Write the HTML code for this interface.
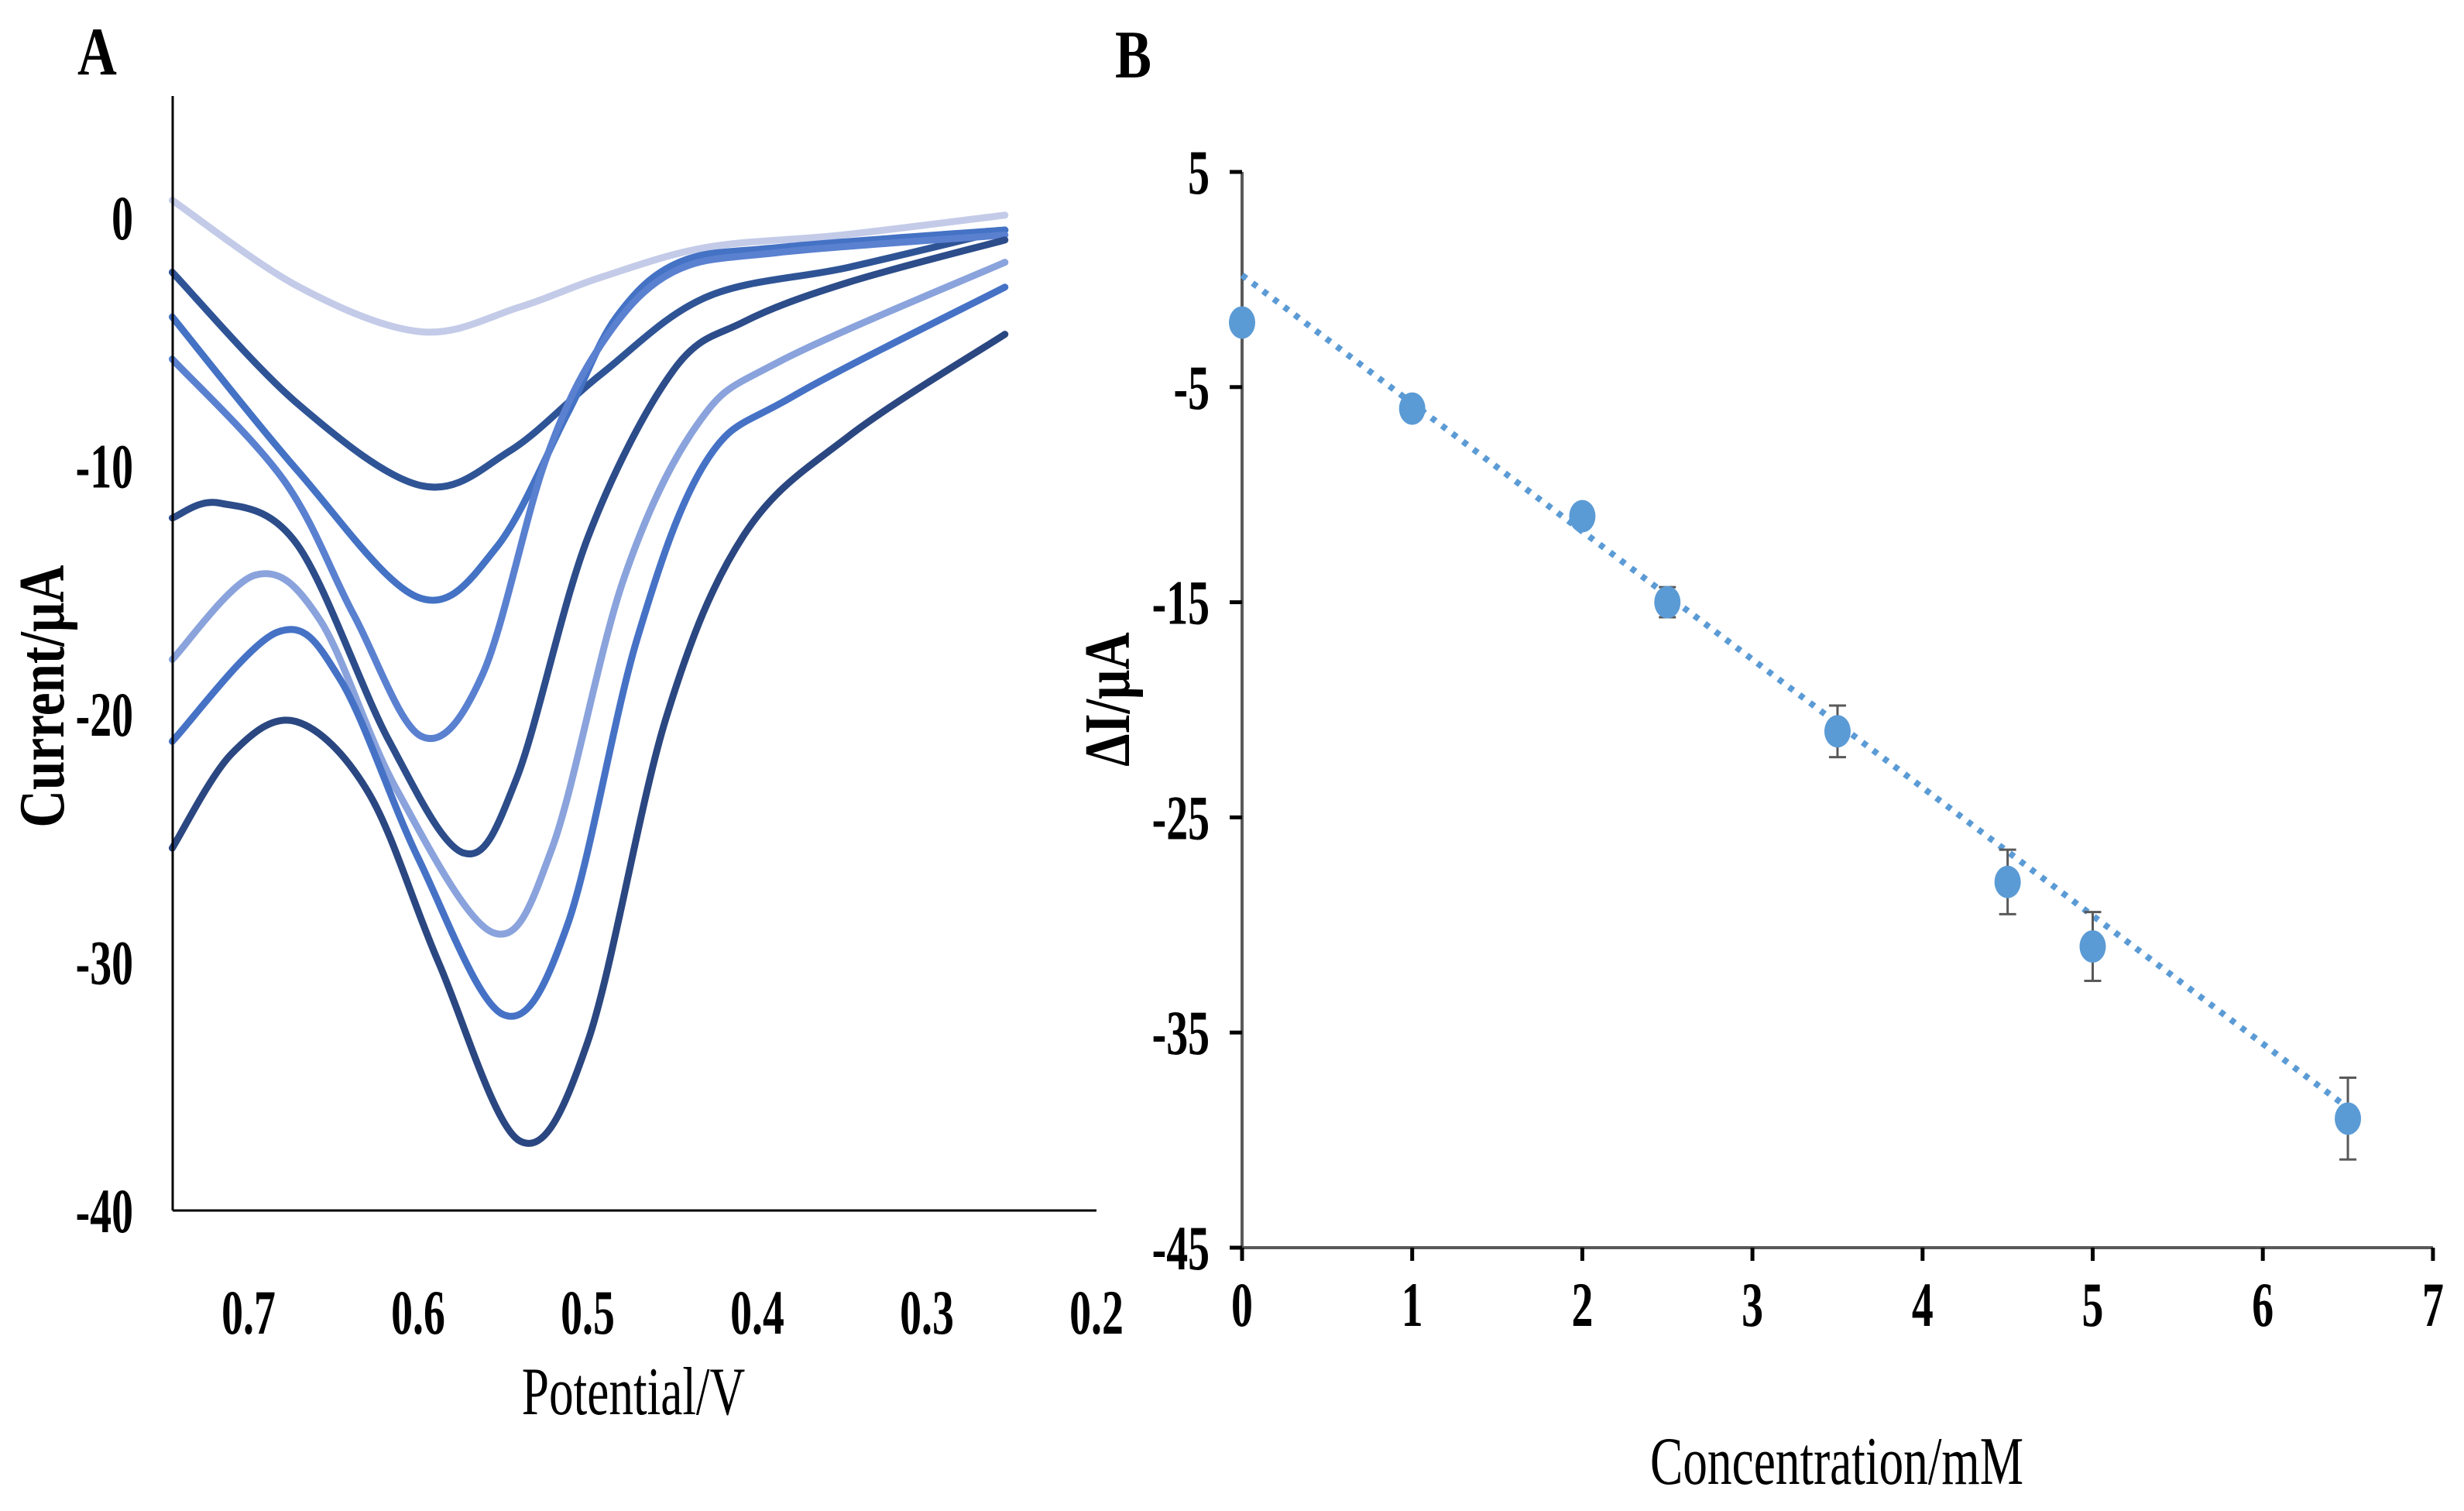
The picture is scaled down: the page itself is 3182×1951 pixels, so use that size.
<!DOCTYPE html>
<html><head><meta charset="utf-8"><style>
html,body{margin:0;padding:0;background:#fff;}
svg{display:block;}
text{font-family:"Liberation Serif",serif;fill:#000;}
</style></head><body>
<svg id="chart" width="3182" height="1951" viewBox="0 0 3182 1951">
<g id="panelA"></g>
<g id="panelB"></g>
</svg>
<script>
// ---------- Panel A data ----------
const aXTicks = [0.7, 0.6, 0.5, 0.4, 0.3, 0.2];
const aYTicks = [0, -10, -20, -30, -40];
const aColors = ["#c3cbe8", "#2f5496", "#4472c4", "#5a80d0", "#2c4c8a", "#8aa3dc", "#4672c6", "#2b4781"];
const aCurve1 = [[0.745,0.7],[0.67,-2.8],[0.598,-4.6],[0.54,-3.6],[0.492,-2.4],[0.43,-1.2],[0.35,-0.7],[0.254,0.1]];
const aCurve2 = [[0.745,-2.2],[0.671,-7.5],[0.598,-10.8],[0.546,-9.4],[0.492,-6.3],[0.43,-3.2],[0.346,-2.0],[0.254,-0.5]];
const aCurve3 = [[0.745,-4.0],[0.671,-10.2],[0.6,-15.3],[0.554,-13.3],[0.512,-7.9],[0.483,-4.0],[0.446,-1.8],[0.387,-1.2],[0.254,-0.5]];
const aCurve4 = [[0.745,-5.7],[0.679,-10.6],[0.638,-16.0],[0.598,-20.9],[0.562,-18.4],[0.525,-9.8],[0.492,-5.1],[0.45,-2.2],[0.387,-1.4],[0.254,-0.7]];
const aCurve5 = [[0.745,-12.1],[0.717,-11.5],[0.671,-13.2],[0.617,-21.1],[0.573,-25.6],[0.542,-22.6],[0.5,-12.9],[0.45,-6.2],[0.408,-4.2],[0.346,-2.6],[0.254,-0.9]];
const aCurve6 = [[0.745,-17.8],[0.696,-14.4],[0.658,-16.2],[0.613,-23.0],[0.556,-28.8],[0.521,-25.4],[0.479,-14.6],[0.435,-8.3],[0.387,-5.8],[0.254,-1.8]];
const aCurve7 = [[0.745,-21.1],[0.683,-16.7],[0.646,-18.6],[0.6,-25.8],[0.55,-32.1],[0.512,-28.5],[0.471,-17.0],[0.43,-9.8],[0.379,-7.2],[0.254,-2.8]];
const aCurve8 = [[0.745,-25.4],[0.71,-21.6],[0.672,-20.3],[0.629,-23.2],[0.588,-30.0],[0.54,-37.2],[0.5,-33.2],[0.454,-20.2],[0.408,-12.8],[0.346,-8.8],[0.254,-4.7]];
const aCurves = [aCurve1,aCurve2,aCurve3,aCurve4,aCurve5,aCurve6,aCurve7,aCurve8];

// ---------- Panel B data ----------
const bConc = [0, 1, 2, 2.5, 3.5, 4.5, 5, 6.5];
const bDeltaI = [-2, -6, -11, -15, -21, -28, -31, -39];
const bErr = [0.3, 0.3, 0.3, 0.7, 1.2, 1.5, 1.6, 1.9];
const bXTicks = [0,1,2,3,4,5,6,7];
const bYTicks = [5,-5,-15,-25,-35,-45];
const bTrend = [0, 6.5];
const bTrendVals = [0.2, -38.5];

const NS = "http://www.w3.org/2000/svg";
function mk(parent, tag, attrs, txt){
  const e = document.createElementNS(NS, tag);
  for (const k in attrs) e.setAttribute(k, attrs[k]);
  if (txt !== undefined) e.textContent = txt;
  parent.appendChild(e);
  return e;
}
function txt(parent, x, y, s, size, bold, anchor, sx, rot){
  const t = 'translate('+x+','+y+')' + (rot ? ' rotate(-90)' : '') + ' scale('+sx+',1)';
  return mk(parent,'text',{x:0,y:0,'font-size':size,'font-weight':bold?'bold':'normal','text-anchor':anchor,transform:t},s);
}
const ax = v => 321 + (0.7 - v) / 0.1 * 219;
const ay = v => 281 + (-v) * 32.05;
const A = document.getElementById('panelA');

let e;
e = txt(A,100,96,'A',88,true,'start',0.8,false);
 

aCurves.forEach((pts,i)=>{
  const P = pts.map(p=>[ax(p[0]), ay(p[1])]);
  let d = 'M'+P[0][0]+','+P[0][1];
  for (let k=0;k<P.length-1;k++){
    const p0=P[Math.max(k-1,0)], p1=P[k], p2=P[k+1], p3=P[Math.min(k+2,P.length-1)];
    const c1=[p1[0]+(p2[0]-p0[0])/6, p1[1]+(p2[1]-p0[1])/6];
    const c2=[p2[0]-(p3[0]-p1[0])/6, p2[1]-(p3[1]-p1[1])/6];
    d+=' C'+c1[0]+','+c1[1]+' '+c2[0]+','+c2[1]+' '+p2[0]+','+p2[1];
  }
  const path = mk(A,'path',{d:d,fill:'none',stroke:aColors[i],'stroke-width':9,'stroke-linecap':'round'});
  
  
});
e = mk(A,'line',{x1:223,y1:124,x2:223,y2:1563,stroke:'#000','stroke-width':3});
 
e = mk(A,'line',{x1:223,y1:1563,x2:1416,y2:1563,stroke:'#000','stroke-width':3});
 
aYTicks.forEach(t=>{
  const tx = txt(A,172,ay(t)+28,String(t),82,true,'end',0.68,false);
  
  
});
aXTicks.forEach(t=>{
  const tx = txt(A,ax(t),1722,t.toFixed(1),82,true,'middle',0.68,false);
  
  
});
e = txt(A,818,1826,'Potential/V',88,false,'middle',0.72,false);
 
e = txt(A,82,899,'Current/μA',84,true,'middle',0.8,true);
 

const bx = v => 1604 + v * 219.7;
const by = v => 222 + (5 - v) * 27.78;
const B = document.getElementById('panelB');
e = txt(B,1440,100,'B',88,true,'start',0.8,false);
 
e = mk(B,'line',{x1:1604,y1:222,x2:1604,y2:1611,stroke:'#595959','stroke-width':4});
 
e = mk(B,'line',{x1:1604,y1:1611,x2:3142,y2:1611,stroke:'#595959','stroke-width':4});
 
bYTicks.forEach(t=>{
  const l = mk(B,'line',{x1:1588,y1:by(t),x2:1604,y2:by(t),stroke:'#000','stroke-width':5});
   
  const tx = txt(B,1562,by(t)+28,String(t),82,true,'end',0.68,false);
  
  
});
bXTicks.forEach(t=>{
  const l = mk(B,'line',{x1:bx(t),y1:1611,x2:bx(t),y2:1628,stroke:'#000','stroke-width':5});
   
  const tx = txt(B,bx(t),1712,String(t),82,true,'middle',0.68,false);
  
  
});
e = mk(B,'line',{x1:bx(bTrend[0]),y1:by(bTrendVals[0]),x2:bx(bTrend[1]),y2:by(bTrendVals[1]),stroke:'#5b9bd5','stroke-width':8,'stroke-dasharray':'7 10'});
 
bConc.forEach((c,i)=>{
  const x=bx(c), y=by(bDeltaI[i]), e1=by(bDeltaI[i]+bErr[i]), e2=by(bDeltaI[i]-bErr[i]);
  const g = mk(B,'g',{});
  
  
  mk(g,'line',{x1:x,y1:e1,x2:x,y2:e2,stroke:'#595959','stroke-width':3});
  mk(g,'line',{x1:x-11,y1:e1,x2:x+11,y2:e1,stroke:'#595959','stroke-width':3});
  mk(g,'line',{x1:x-11,y1:e2,x2:x+11,y2:e2,stroke:'#595959','stroke-width':3});
  const m = mk(B,'ellipse',{cx:x,cy:y,rx:17,ry:21,fill:'#5b9bd5'});
  
  
});
e = txt(B,2372,1916,'Concentration/mM',88,false,'middle',0.72,false);
 
e = txt(B,1458,903,'ΔI/μA',84,true,'middle',0.8,true);
 
</script>
</body></html>
